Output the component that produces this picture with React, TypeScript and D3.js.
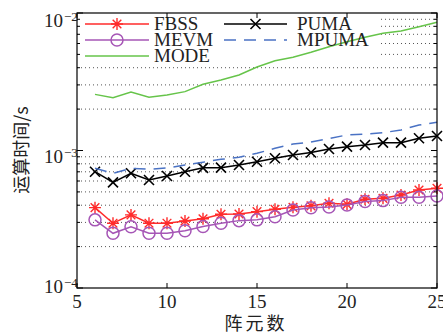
import * as d3 from 'd3'

// array size on the x axis
const elements = [6, 7, 8, 9, 10, 11, 12, 13, 14, 15, 16, 17, 18, 19, 20, 21, 22, 23, 24, 25]

// computation time (s)
const fbss = [3.84e-4, 2.96e-4, 3.4e-4, 2.96e-4, 2.96e-4, 3.07e-4, 3.19e-4, 3.44e-4, 3.45e-4, 3.59e-4, 3.74e-4, 3.86e-4, 3.96e-4, 4.13e-4, 4.06e-4, 4.42e-4, 4.49e-4, 4.75e-4, 5.16e-4, 5.31e-4]
const mevm = [3.13e-4, 2.5e-4, 2.79e-4, 2.5e-4, 2.5e-4, 2.61e-4, 2.8e-4, 2.96e-4, 3.09e-4, 3.13e-4, 3.3e-4, 3.69e-4, 3.83e-4, 3.88e-4, 4.02e-4, 4.25e-4, 4.32e-4, 4.57e-4, 4.57e-4, 4.67e-4]
const mode = [2.56e-3, 2.42e-3, 2.66e-3, 2.44e-3, 2.53e-3, 2.68e-3, 3.03e-3, 3.26e-3, 3.54e-3, 4.05e-3, 4.5e-3, 4.76e-3, 5.18e-3, 5.69e-3, 6.18e-3, 6.66e-3, 7.12e-3, 7.4e-3, 7.95e-3, 8.56e-3]
const puma = [7.01e-4, 5.87e-4, 6.83e-4, 6.1e-4, 6.53e-4, 7.0e-4, 7.48e-4, 7.5e-4, 7.85e-4, 8.29e-4, 8.78e-4, 9.27e-4, 9.67e-4, 1.025e-3, 1.066e-3, 1.096e-3, 1.14e-3, 1.14e-3, 1.227e-3, 1.275e-3]
const mpuma = [7.43e-4, 6.83e-4, 7.43e-4, 7.3e-4, 7.46e-4, 7.85e-4, 8.22e-4, 8.63e-4, 8.92e-4, 9.54e-4, 1.037e-3, 1.114e-3, 1.153e-3, 1.222e-3, 1.297e-3, 1.318e-3, 1.347e-3, 1.41e-3, 1.533e-3, 1.603e-3]

const xTicks = [5, 10, 15, 20, 25]
const yMajor = [1e-2, 1e-3, 1e-4]
const yExp = ['−2', '−3', '−4']
const yMinor = [2e-4, 3e-4, 4e-4, 5e-4, 6e-4, 7e-4, 8e-4, 9e-4, 2e-3, 3e-3, 4e-3, 5e-3, 6e-3, 7e-3, 8e-3, 9e-3]

const width = 443
const height = 334
const margin = { top: 13, right: 6, bottom: 46, left: 77 }

const serif = '"Liberation Serif", "Times New Roman", serif'
const cjk = '"Noto Sans CJK SC", sans-serif'

type Marker = 'star' | 'circle' | 'x' | 'none'

const series: { name: string; values: number[]; color: string; marker: Marker; dash?: string }[] = [
  { name: 'FBSS', values: fbss, color: '#ff2b2b', marker: 'star' },
  { name: 'MEVM', values: mevm, color: '#a656b6', marker: 'circle' },
  { name: 'MODE', values: mode, color: '#66c44a', marker: 'none' },
  { name: 'PUMA', values: puma, color: '#000000', marker: 'x' },
  { name: 'MPUMA', values: mpuma, color: '#4a72c4', marker: 'none', dash: '12 8' },
]

function MarkerShape({ kind, x, y, color }: { kind: Marker; x: number; y: number; color: string }) {
  if (kind === 'circle') {
    return <circle cx={x} cy={y} r={6} fill="none" stroke={color} strokeWidth={1.5} />
  }
  if (kind === 'x') {
    const s = 5
    return (
      <path d={`M${x - s},${y - s}L${x + s},${y + s}M${x - s},${y + s}L${x + s},${y - s}`} stroke={color} strokeWidth={1.6} />
    )
  }
  if (kind === 'star') {
    const s = 6
    const d = s * 0.72
    return (
      <path
        d={`M${x - s},${y}L${x + s},${y}M${x},${y - s}L${x},${y + s}M${x - d},${y - d}L${x + d},${y + d}M${x - d},${y + d}L${x + d},${y - d}`}
        stroke={color}
        strokeWidth={1.4}
      />
    )
  }
  return null
}

export default function App() {
  const x = d3.scaleLinear().domain([5, 25]).range([margin.left, width - margin.right])
  const y = d3.scaleLog().domain([1e-4, 1e-2]).range([height - margin.bottom, margin.top])
  const x0 = margin.left
  const x1 = width - margin.right
  const y0 = height - margin.bottom
  const y1 = margin.top

  const line = d3
    .line<number>()
    .x((_, i) => x(elements[i]))
    .y(d => y(d))

  // label baseline offsets (the exported figure shifts them a bit)
  const labelDy = [14, 12.5, 5]

  const legendRows = [
    { col: 0, row: 0, s: series[0] },
    { col: 0, row: 1, s: series[1] },
    { col: 0, row: 2, s: series[2] },
    { col: 1, row: 0, s: series[3] },
    { col: 1, row: 1, s: series[4] },
  ]
  const legendCols = [
    { x0: 85, x1: 149, tx: 154 },
    { x0: 224, x1: 287, tx: 297 },
  ]

  return (
    <svg width={width} height={height} style={{ position: 'absolute', left: 0, top: 0, background: '#fff' }}>
      {/* minor grid */}
      {yMinor.map(v => (
        <line key={v} x1={x0} x2={x1} y1={y(v)} y2={y(v)} stroke="#555" strokeWidth={1} strokeDasharray="1 3" />
      ))}

      {/* legend background hides the grid */}
      <rect x={79} y={14} width={299} height={50} fill="#fff" />

      {/* data */}
      {series.map(s => (
        <g key={s.name}>
          <path d={line(s.values) ?? ''} fill="none" stroke={s.color} strokeWidth={1.5} strokeDasharray={s.dash} />
          {s.values.map((v, i) => (
            <MarkerShape key={i} kind={s.marker} x={x(elements[i])} y={y(v)} color={s.color} />
          ))}
        </g>
      ))}

      {/* legend */}
      {legendRows.map(({ col, row, s }) => {
        const c = legendCols[col]
        const ly = 24 + row * 16
        return (
          <g key={s.name}>
            <line x1={c.x0} x2={c.x1} y1={ly} y2={ly} stroke={s.color} strokeWidth={1.5} strokeDasharray={s.dash} />
            <MarkerShape kind={s.marker} x={(c.x0 + c.x1) / 2} y={ly} color={s.color} />
            <text x={c.tx} y={ly + 5.5} fontFamily={serif} fontSize={19} fill="#222">
              {s.name}
            </text>
          </g>
        )
      })}

      {/* frame */}
      <rect x={x0} y={y1} width={x1 - x0} height={y0 - y1} fill="none" stroke="#000" strokeWidth={1.2} />

      {/* y ticks */}
      {yMajor.map(v => (
        <g key={v}>
          <line x1={x0} x2={x0 + 6} y1={y(v)} y2={y(v)} stroke="#000" />
          <line x1={x1} x2={x1 - 6} y1={y(v)} y2={y(v)} stroke="#000" />
        </g>
      ))}
      {yMinor.map(v => (
        <g key={v}>
          <line x1={x0} x2={x0 + 3} y1={y(v)} y2={y(v)} stroke="#000" />
          <line x1={x1} x2={x1 - 3} y1={y(v)} y2={y(v)} stroke="#000" />
        </g>
      ))}
      {yMajor.map((v, i) => (
        <g key={v} fontFamily={serif} fill="#222">
          <text x={63} y={y(v) + labelDy[i]} fontSize={19} textAnchor="end">
            10
          </text>
          <text x={64} y={y(v) + labelDy[i] - 6} fontSize={13}>
            {yExp[i]}
          </text>
        </g>
      ))}

      {/* x ticks */}
      {xTicks.map(t => (
        <g key={t}>
          <line x1={x(t)} x2={x(t)} y1={y0} y2={y0 - 5} stroke="#000" />
          <line x1={x(t)} x2={x(t)} y1={y1} y2={y1 + 5} stroke="#000" />
          <text x={x(t)} y={308} fontFamily={serif} fontSize={19} textAnchor="middle" fill="#222">
            {t}
          </text>
        </g>
      ))}

      {/* axis titles */}
      <text x={256} y={330} fontFamily={cjk} fontSize={18} textAnchor="middle" letterSpacing={3} fill="#222">
        阵元数
      </text>
      <text
        transform={`translate(28,150) rotate(-90)`}
        fontFamily={cjk}
        fontSize={18}
        textAnchor="middle"
        fill="#222"
      >
        运算时间/s
      </text>
    </svg>
  )
}
